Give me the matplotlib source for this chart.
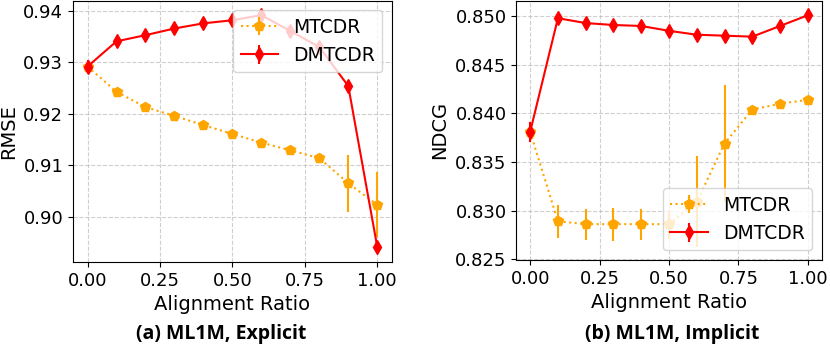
import matplotlib
matplotlib.use('Agg')
import matplotlib.pyplot as plt

# alignment ratios shared by both panels
ratios = [0.0, 0.1, 0.2, 0.3, 0.4, 0.5, 0.6, 0.7, 0.8, 0.9, 1.0]

# (a) ML1M, explicit -> RMSE
rmse_mtcdr = [0.9292, 0.9243, 0.9213, 0.9196, 0.9178, 0.9161, 0.9144, 0.9129, 0.9114, 0.9065, 0.9023]
rmse_mtcdr_err = [0.0004, 0.0004, 0.0003, 0.0003, 0.0003, 0.0003, 0.0003, 0.0003, 0.0003, 0.0055, 0.0063]
rmse_dmtcdr = [0.9292, 0.9341, 0.9353, 0.9366, 0.9376, 0.9382, 0.9392, 0.9361, 0.9330, 0.9254, 0.8941]
rmse_dmtcdr_err = [0.0013, 0.0006, 0.0005, 0.0005, 0.0005, 0.0004, 0.0006, 0.0006, 0.0005, 0.0006, 0.0004]

# (b) ML1M, implicit -> NDCG
ndcg_mtcdr = [0.8381, 0.8289, 0.8286, 0.8286, 0.8286, 0.8286, 0.8309, 0.8369, 0.8404, 0.8410, 0.8414]
ndcg_mtcdr_err = [0.0010, 0.0017, 0.0016, 0.0017, 0.0016, 0.0015, 0.0047, 0.0060, 0.0003, 0.0003, 0.0003]
ndcg_dmtcdr = [0.8381, 0.8498, 0.8493, 0.8491, 0.8490, 0.8485, 0.8481, 0.8480, 0.8479, 0.8490, 0.8501]
ndcg_dmtcdr_err = [0.0010, 0.0004, 0.0004, 0.0004, 0.0004, 0.0004, 0.0004, 0.0004, 0.0004, 0.0004, 0.0004]

fig = plt.figure(figsize=(8.3, 3.54), dpi=100)
ax1 = fig.add_axes([0.088, 0.260, 0.384, 0.738])
ax2 = fig.add_axes([0.622, 0.266, 0.368, 0.732])


def draw(ax, mt, mt_err, dm, dm_err, ylabel, loc):
    ax.errorbar(ratios, mt, yerr=mt_err, color='orange', linestyle=':', marker='p',
                markersize=7, linewidth=1.5, elinewidth=1.5, capsize=0, label='MTCDR')
    ax.errorbar(ratios, dm, yerr=dm_err, color='red', linestyle='-', marker='d',
                markersize=7, linewidth=1.5, elinewidth=1.5, capsize=0, label='DMTCDR')
    ax.grid(True, linestyle='--', color='#b0b0b0', alpha=0.6)
    ax.set_xticks([0.0, 0.25, 0.5, 0.75, 1.0])
    ax.tick_params(labelsize=13)
    ax.set_xlabel('Alignment Ratio', fontsize=14)
    ax.set_ylabel(ylabel, fontsize=14)
    ax.legend(loc=loc, fontsize=13.5)


draw(ax1, rmse_mtcdr, rmse_mtcdr_err, rmse_dmtcdr, rmse_dmtcdr_err, 'RMSE', 'upper right')
ax1.set_ylim(0.8912, 0.9420)
ax1.set_yticks([0.90, 0.91, 0.92, 0.93, 0.94])

draw(ax2, ndcg_mtcdr, ndcg_mtcdr_err, ndcg_dmtcdr, ndcg_dmtcdr_err, 'NDCG', 'lower right')
ax2.set_ylim(0.82493, 0.8516)
ax2.set_yticks([0.825, 0.830, 0.835, 0.840, 0.845, 0.850])

fig.text(0.267, 0.042, '(a) ML1M, Explicit', ha='center', va='baseline',
         fontsize=14, fontweight='bold', family='Open Sans')
fig.text(0.810, 0.042, '(b) ML1M, Implicit', ha='center', va='baseline',
         fontsize=14, fontweight='bold', family='Open Sans')

fig.savefig('out.png', dpi=100)
